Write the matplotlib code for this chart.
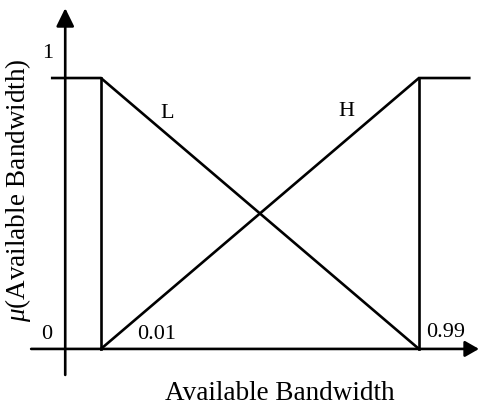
import matplotlib.pyplot as plt

plt.rcParams['font.family'] = ['Liberation Serif', 'DejaVu Serif']
plt.rcParams['mathtext.fontset'] = 'custom'
plt.rcParams['mathtext.it'] = 'Liberation Serif:italic'
plt.rcParams['mathtext.rm'] = 'Liberation Serif'

# membership functions (schematic)
low_x = [-0.14, 0.01, 0.99]
low_y = [1, 1, 0]
high_x = [0.01, 0.99, 1.145]
high_y = [0, 1, 1]
break_x = [0.01, 0.99]

tick_labels = ['0.01', '0.99']
set_names = ['L', 'H']

fig = plt.figure(figsize=(4.78, 4.05), dpi=100)
ax = fig.add_axes([0, 0, 1, 1])
ax.set_xlim(-0.301, 1.172)
ax.set_ylim(-0.207, 1.288)
ax.axis('off')

lw = 1.9
k = 'black'

# axes with arrows
ax.annotate('', xy=(-0.1, 1.258), xytext=(-0.1, -0.096),
            annotation_clip=False,
            arrowprops=dict(arrowstyle='-|>,head_length=0.55,head_width=0.27',
                            mutation_scale=20, lw=lw, color=k,
                            shrinkA=0, shrinkB=0))
ax.annotate('', xy=(1.175, 0), xytext=(-0.205, 0),
            annotation_clip=False,
            arrowprops=dict(arrowstyle='-|>,head_length=0.42,head_width=0.24',
                            mutation_scale=20, lw=lw, color=k,
                            shrinkA=0, shrinkB=0))

ax.plot(low_x, low_y, color=k, lw=lw, solid_joinstyle='miter')
ax.plot(high_x, high_y, color=k, lw=lw, solid_joinstyle='miter')
for bx in break_x:
    ax.plot([bx, bx], [0, 1], color=k, lw=lw)

fs = 16
ax.text(-0.153, 1.09, '1', fontsize=fs, ha='center', va='center')
ax.text(-0.156, 0.055, '0', fontsize=fs, ha='center', va='center')
ax.text(0.183, 0.055, tick_labels[0], fontsize=fs, ha='center', va='center')
ax.text(1.073, 0.06, tick_labels[1], fontsize=fs, ha='center', va='center')
ax.text(0.213, 0.869, set_names[0], fontsize=fs, ha='center', va='center')
ax.text(0.767, 0.875, set_names[1], fontsize=fs, ha='center', va='center')

ax.text(0.56, -0.188, 'Available Bandwidth', fontsize=19.5,
        ha='center', va='baseline')
ax.text(-0.246, 0.587, r'$\mu$(Available Bandwidth)', fontsize=19.5,
        ha='center', va='center', rotation=90)

fig.savefig('out.png', dpi=100)
